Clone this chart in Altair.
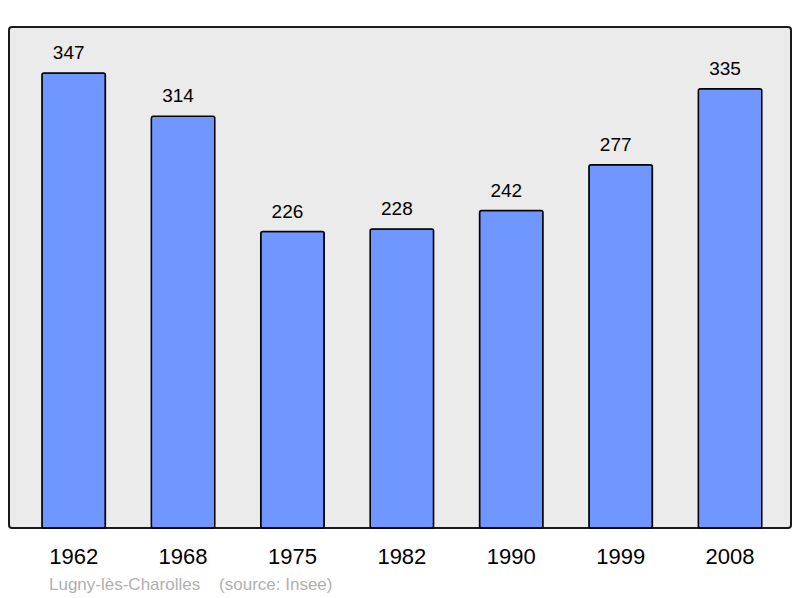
import altair as alt
import pandas as pd

years = ["1962", "1968", "1975", "1982", "1990", "1999", "2008"]
population = [347, 314, 226, 228, 242, 277, 335]

df = pd.DataFrame({"year": years, "pop": population})

font = "Liberation Sans"

base = alt.Chart(df).encode(
    alt.X(
        "year:N",
        sort=years,
        scale=alt.Scale(paddingInner=0.42, paddingOuter=0.284, align=0.53),
        axis=alt.Axis(
            title=None,
            labelAngle=0,
            labelFontSize=22,
            labelFont=font,
            labelColor="#000",
            labelPadding=18,
            ticks=False,
            domain=False,
        ),
    ),
    alt.Y(
        "pop:Q",
        scale=alt.Scale(domain=[0, 382], nice=False),
        axis=None,
    ),
)

bars = base.mark_bar(
    color="#7097ff",
    stroke="#000",
    strokeWidth=1.5,
    cornerRadius=2,
)

labels = base.mark_text(
    baseline="bottom",
    dx=-5,
    dy=-10,
    fontSize=19,
    font=font,
    color="#000",
).encode(text="pop:Q")

chart = (
    alt.layer(bars, labels)
    .properties(
        width=782,
        height=501,
        autosize=alt.AutoSizeParams(type="none"),
        padding={"left": 1, "top": 19, "right": 1, "bottom": 70},
        background="#ffffff",
        title=alt.TitleParams(
            "Lugny-lès-Charolles\u00a0\u00a0\u00a0\u00a0(source: Insee)",
            orient="bottom",
            anchor="start",
            dx=40,
            offset=10,
            fontSize=17,
            fontWeight="normal",
            font=font,
            color="#b0b0b0",
        ),
    )
    .configure_view(
        fill="#ebebeb",
        stroke="#1a1a1a",
        strokeWidth=2,
        cornerRadius=3,
    )
)

chart.save("out.html", embed_options={"renderer": "svg", "actions": False})
